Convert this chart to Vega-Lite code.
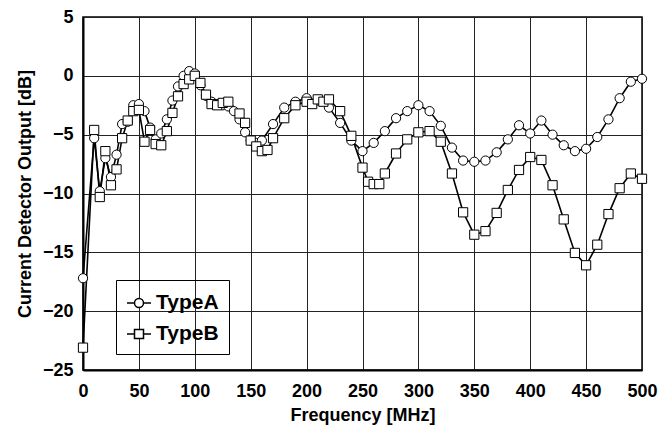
{
  "$schema": "https://vega.github.io/schema/vega-lite/v6.json",
  "autosize": "none",
  "width": 559,
  "height": 353,
  "padding": {"left": 83, "top": 17, "right": 30, "bottom": 67},
  "background": "white",
  "config": {
    "font": "Liberation Sans, Arial",
    "view": {"stroke": "black", "strokeWidth": 1.5},
    "axis": {
      "domainColor": "black",
      "domainWidth": 2,
      "gridColor": "#222",
      "gridWidth": 1,
      "gridOpacity": 1,
      "ticks": false,
      "labelFont": "Liberation Sans, Arial",
      "labelFontSize": 18,
      "labelFontWeight": "bold",
      "labelColor": "black",
      "titleFont": "Liberation Sans, Arial",
      "titleFontSize": 18,
      "titleFontWeight": "bold",
      "titleColor": "black"
    }
  },
  "data": {
    "values": [
      {"f": 0, "v": -17.2, "type": "TypeA"},
      {"f": 10, "v": -5.3, "type": "TypeA"},
      {"f": 15, "v": -9.8, "type": "TypeA"},
      {"f": 20, "v": -7.0, "type": "TypeA"},
      {"f": 25, "v": -8.6, "type": "TypeA"},
      {"f": 30, "v": -6.7, "type": "TypeA"},
      {"f": 35, "v": -4.1, "type": "TypeA"},
      {"f": 40, "v": -3.9, "type": "TypeA"},
      {"f": 45, "v": -2.5, "type": "TypeA"},
      {"f": 50, "v": -2.4, "type": "TypeA"},
      {"f": 55, "v": -3.0, "type": "TypeA"},
      {"f": 60, "v": -4.4, "type": "TypeA"},
      {"f": 65, "v": -5.4, "type": "TypeA"},
      {"f": 70, "v": -4.9, "type": "TypeA"},
      {"f": 75, "v": -3.7, "type": "TypeA"},
      {"f": 80, "v": -2.1, "type": "TypeA"},
      {"f": 85, "v": -0.9, "type": "TypeA"},
      {"f": 90, "v": 0.0, "type": "TypeA"},
      {"f": 95, "v": 0.4, "type": "TypeA"},
      {"f": 100, "v": 0.2, "type": "TypeA"},
      {"f": 105, "v": -0.8, "type": "TypeA"},
      {"f": 110, "v": -1.7, "type": "TypeA"},
      {"f": 115, "v": -2.2, "type": "TypeA"},
      {"f": 120, "v": -2.4, "type": "TypeA"},
      {"f": 125, "v": -2.5, "type": "TypeA"},
      {"f": 130, "v": -2.6, "type": "TypeA"},
      {"f": 135, "v": -3.0, "type": "TypeA"},
      {"f": 140, "v": -3.7, "type": "TypeA"},
      {"f": 145, "v": -4.8, "type": "TypeA"},
      {"f": 150, "v": -5.5, "type": "TypeA"},
      {"f": 155, "v": -5.7, "type": "TypeA"},
      {"f": 160, "v": -5.5, "type": "TypeA"},
      {"f": 170, "v": -4.1, "type": "TypeA"},
      {"f": 180, "v": -2.7, "type": "TypeA"},
      {"f": 190, "v": -2.2, "type": "TypeA"},
      {"f": 200, "v": -1.9, "type": "TypeA"},
      {"f": 210, "v": -2.1, "type": "TypeA"},
      {"f": 220, "v": -2.7, "type": "TypeA"},
      {"f": 230, "v": -4.0, "type": "TypeA"},
      {"f": 240, "v": -5.5, "type": "TypeA"},
      {"f": 250, "v": -6.4, "type": "TypeA"},
      {"f": 260, "v": -5.7, "type": "TypeA"},
      {"f": 270, "v": -4.7, "type": "TypeA"},
      {"f": 280, "v": -3.6, "type": "TypeA"},
      {"f": 290, "v": -3.0, "type": "TypeA"},
      {"f": 300, "v": -2.5, "type": "TypeA"},
      {"f": 310, "v": -3.0, "type": "TypeA"},
      {"f": 320, "v": -4.25, "type": "TypeA"},
      {"f": 330, "v": -6.1, "type": "TypeA"},
      {"f": 340, "v": -7.2, "type": "TypeA"},
      {"f": 350, "v": -7.3, "type": "TypeA"},
      {"f": 360, "v": -7.2, "type": "TypeA"},
      {"f": 370, "v": -6.5, "type": "TypeA"},
      {"f": 380, "v": -5.4, "type": "TypeA"},
      {"f": 390, "v": -4.2, "type": "TypeA"},
      {"f": 400, "v": -4.9, "type": "TypeA"},
      {"f": 410, "v": -3.8, "type": "TypeA"},
      {"f": 420, "v": -5.0, "type": "TypeA"},
      {"f": 430, "v": -5.9, "type": "TypeA"},
      {"f": 440, "v": -6.4, "type": "TypeA"},
      {"f": 450, "v": -6.2, "type": "TypeA"},
      {"f": 460, "v": -5.2, "type": "TypeA"},
      {"f": 470, "v": -3.7, "type": "TypeA"},
      {"f": 480, "v": -1.9, "type": "TypeA"},
      {"f": 490, "v": -0.5, "type": "TypeA"},
      {"f": 500, "v": -0.25, "type": "TypeA"},
      {"f": 0, "v": -23.1, "type": "TypeB"},
      {"f": 10, "v": -4.6, "type": "TypeB"},
      {"f": 15, "v": -10.3, "type": "TypeB"},
      {"f": 20, "v": -6.4, "type": "TypeB"},
      {"f": 25, "v": -9.3, "type": "TypeB"},
      {"f": 30, "v": -7.95, "type": "TypeB"},
      {"f": 35, "v": -5.3, "type": "TypeB"},
      {"f": 40, "v": -3.8, "type": "TypeB"},
      {"f": 45, "v": -3.0, "type": "TypeB"},
      {"f": 50, "v": -2.9, "type": "TypeB"},
      {"f": 55, "v": -5.6, "type": "TypeB"},
      {"f": 60, "v": -4.6, "type": "TypeB"},
      {"f": 65, "v": -5.8, "type": "TypeB"},
      {"f": 70, "v": -5.9, "type": "TypeB"},
      {"f": 75, "v": -4.7, "type": "TypeB"},
      {"f": 80, "v": -3.15, "type": "TypeB"},
      {"f": 85, "v": -1.74, "type": "TypeB"},
      {"f": 90, "v": -0.7, "type": "TypeB"},
      {"f": 95, "v": -0.3, "type": "TypeB"},
      {"f": 100, "v": 0.0, "type": "TypeB"},
      {"f": 105, "v": -0.6, "type": "TypeB"},
      {"f": 110, "v": -1.6, "type": "TypeB"},
      {"f": 115, "v": -2.4, "type": "TypeB"},
      {"f": 120, "v": -2.5, "type": "TypeB"},
      {"f": 125, "v": -2.3, "type": "TypeB"},
      {"f": 130, "v": -2.2, "type": "TypeB"},
      {"f": 140, "v": -3.2, "type": "TypeB"},
      {"f": 145, "v": -4.0, "type": "TypeB"},
      {"f": 150, "v": -5.5, "type": "TypeB"},
      {"f": 155, "v": -6.0, "type": "TypeB"},
      {"f": 160, "v": -6.4, "type": "TypeB"},
      {"f": 165, "v": -6.3, "type": "TypeB"},
      {"f": 170, "v": -5.3, "type": "TypeB"},
      {"f": 180, "v": -3.6, "type": "TypeB"},
      {"f": 190, "v": -2.5, "type": "TypeB"},
      {"f": 200, "v": -2.2, "type": "TypeB"},
      {"f": 205, "v": -2.4, "type": "TypeB"},
      {"f": 210, "v": -2.0, "type": "TypeB"},
      {"f": 215, "v": -2.2, "type": "TypeB"},
      {"f": 220, "v": -2.0, "type": "TypeB"},
      {"f": 230, "v": -3.0, "type": "TypeB"},
      {"f": 240, "v": -5.1, "type": "TypeB"},
      {"f": 250, "v": -7.8, "type": "TypeB"},
      {"f": 255, "v": -9.0, "type": "TypeB"},
      {"f": 260, "v": -9.2, "type": "TypeB"},
      {"f": 265, "v": -9.2, "type": "TypeB"},
      {"f": 270, "v": -8.3, "type": "TypeB"},
      {"f": 280, "v": -6.6, "type": "TypeB"},
      {"f": 290, "v": -5.4, "type": "TypeB"},
      {"f": 300, "v": -4.8, "type": "TypeB"},
      {"f": 310, "v": -4.7, "type": "TypeB"},
      {"f": 320, "v": -5.6, "type": "TypeB"},
      {"f": 330, "v": -8.3, "type": "TypeB"},
      {"f": 340, "v": -11.6, "type": "TypeB"},
      {"f": 350, "v": -13.5, "type": "TypeB"},
      {"f": 360, "v": -13.2, "type": "TypeB"},
      {"f": 370, "v": -11.65, "type": "TypeB"},
      {"f": 380, "v": -9.7, "type": "TypeB"},
      {"f": 390, "v": -8.0, "type": "TypeB"},
      {"f": 400, "v": -6.9, "type": "TypeB"},
      {"f": 410, "v": -7.15, "type": "TypeB"},
      {"f": 420, "v": -9.3, "type": "TypeB"},
      {"f": 430, "v": -12.2, "type": "TypeB"},
      {"f": 440, "v": -15.05, "type": "TypeB"},
      {"f": 450, "v": -16.1, "type": "TypeB"},
      {"f": 460, "v": -14.35, "type": "TypeB"},
      {"f": 470, "v": -11.75, "type": "TypeB"},
      {"f": 480, "v": -9.55, "type": "TypeB"},
      {"f": 490, "v": -8.3, "type": "TypeB"},
      {"f": 500, "v": -8.75, "type": "TypeB"}
    ]
  },
  "encoding": {
    "x": {
      "field": "f", "type": "quantitative",
      "scale": {"domain": [0, 500], "nice": false},
      "axis": {"values": [0, 50, 100, 150, 200, 250, 300, 350, 400, 450, 500], "title": "Frequency [MHz]", "labelPadding": 12, "titlePadding": 6, "labelFlush": false}
    },
    "y": {
      "field": "v", "type": "quantitative",
      "scale": {"domain": [-25, 5], "nice": false, "zero": false},
      "axis": {"values": [-25, -20, -15, -10, -5, 0, 5], "title": "Current Detector Output [dB]", "labelPadding": 10, "titlePadding": 8, "labelFlush": false}
    }
  },
  "layer": [
    {
      "mark": {"type": "line", "color": "black", "strokeWidth": 1.6},
      "encoding": {"detail": {"field": "type"}}
    },
    {
      "mark": {"type": "point", "filled": false, "color": "black", "fill": "white", "fillOpacity": 1, "strokeWidth": 1, "opacity": 1, "size": 85},
      "encoding": {
        "shape": {
          "field": "type", "type": "nominal",
          "scale": {
            "domain": ["TypeA", "TypeB"],
            "range": [
              "M-1,0L-0.375,0M0.375,0L1,0M0.375,0A0.375,0.375,0,1,1,-0.375,0A0.375,0.375,0,1,1,0.375,0Z",
              "M-1,0L-0.375,0M0.375,0L1,0M-0.375,-0.375L0.375,-0.375L0.375,0.375L-0.375,0.375Z"
            ]
          },
          "legend": {
            "title": null,
            "orient": "none",
            "legendX": 33,
            "legendY": 263,
            "symbolSize": 576,
            "labelFontSize": 21,
            "labelFontWeight": "bold",
            "labelColor": "black",
            "labelFont": "Liberation Sans, Arial",
            "padding": 10,
            "rowPadding": 8,
            "strokeColor": "black"
          }
        }
      }
    },
    {
      "mark": {"type": "point", "filled": true, "fill": "white", "stroke": "black", "strokeWidth": 1, "opacity": 1, "size": 85},
      "encoding": {
        "shape": {
          "field": "type", "type": "nominal",
          "scale": {"domain": ["TypeA", "TypeB"], "range": ["circle", "square"]},
          "legend": null
        }
      }
    }
  ],
  "resolve": {"scale": {"shape": "independent"}, "legend": {"shape": "independent"}}
}
